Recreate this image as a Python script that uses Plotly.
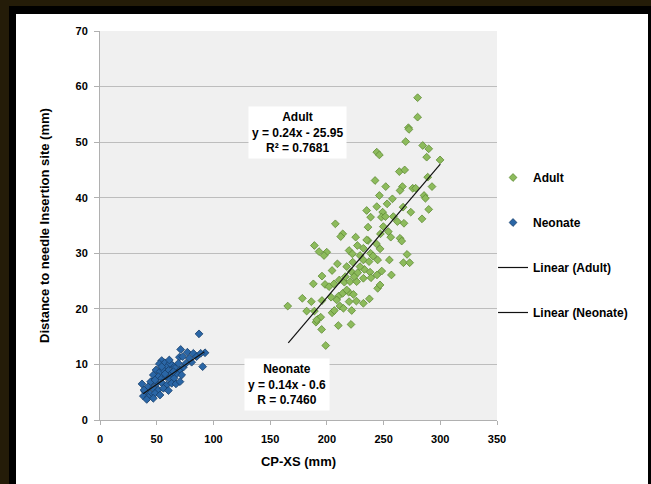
import numpy as np
import plotly.graph_objects as go

# ---------------- data ----------------
adult_x = [280.0, 280.0, 271.9, 272.4, 269.5, 244.0, 246.3, 284.5, 289.8, 288.0,
           299.8, 263.9, 268.6, 242.5, 251.9, 266.6, 264.5, 275.7, 278.3, 288.9,
           292.7, 246.3, 257.8, 285.7, 286.9, 244.0, 253.1, 267.2, 274.0, 289.8,
           235.1, 249.2, 238.6, 248.1, 251.6, 262.2, 268.0, 283.9, 207.5, 236.3,
           214.0, 212.2, 225.4, 247.2, 254.2, 264.5, 266.0, 256.3, 189.0, 193.1,
           199.9, 197.5, 219.6, 226.9, 232.2, 236.3, 243.7, 222.5, 229.2, 238.6,
           240.7, 246.9, 270.7, 209.3, 217.5, 222.8, 232.2, 237.2, 244.8, 255.1,
           267.5, 273.0, 204.6, 221.6, 227.2, 233.1, 238.1, 244.2, 248.4, 256.9,
           195.7, 188.1, 198.4, 201.9, 211.0, 215.4, 220.4, 226.3, 232.2, 238.9,
           244.8, 246.9, 178.4, 186.3, 195.7, 203.7, 210.4, 214.0, 219.3, 223.4,
           226.0, 232.2, 237.5, 165.5, 182.2, 189.0, 192.5, 194.6, 204.6, 206.6,
           211.6, 214.6, 219.6, 221.9, 190.4, 195.4, 210.1, 221.3, 199.0, 216.3,
           224.0, 229.2, 235.1, 249.8, 258.6, 206.3, 191.0, 217.5, 208.7]
adult_y = [58.0, 54.5, 52.6, 52.3, 50.1, 48.2, 47.7, 49.4, 48.8, 47.3,
           46.8, 44.7, 45.0, 43.1, 42.0, 42.0, 41.3, 41.7, 41.7, 43.7,
           42.0, 40.4, 39.8, 40.4, 39.9, 38.4, 38.9, 38.3, 37.4, 37.9,
           37.7, 37.4, 36.5, 36.5, 36.6, 35.7, 35.4, 36.2, 35.3, 34.7,
           33.5, 33.0, 32.9, 33.5, 33.9, 32.7, 32.2, 32.9, 31.4, 30.3,
           30.2, 29.6, 30.5, 31.4, 30.9, 32.3, 31.7, 29.9, 29.6, 30.0,
           29.5, 30.8, 29.8, 28.1, 27.6, 28.4, 28.8, 28.5, 28.8, 28.8,
           28.3, 28.3, 26.9, 26.7, 26.5, 27.1, 26.6, 26.1, 26.8, 26.1,
           25.9, 24.5, 24.4, 24.0, 25.2, 24.8, 24.9, 24.9, 25.5, 25.6,
           23.7, 24.3, 21.9, 21.3, 21.5, 22.1, 22.3, 22.8, 23.0, 22.6,
           21.4, 21.0, 21.8, 20.5, 19.6, 19.6, 18.2, 18.5, 19.3, 19.7,
           20.5, 20.1, 21.3, 19.7, 17.6, 16.3, 17.0, 17.2, 13.4, 25.8,
           25.8, 27.6, 32.4, 34.8, 36.6, 24.5, 18.0, 23.4, 21.6]

neo_x = [87.3, 71.1, 77.0, 70.0, 72.9, 82.3, 92.6, 90.5, 80.8, 69.1,
         64.1, 54.4, 52.3, 57.3, 59.4, 61.7, 66.1, 70.5, 73.5, 49.4,
         52.9, 55.9, 60.3, 63.2, 67.6, 72.0, 47.0, 51.4, 54.4, 58.2,
         61.7, 65.3, 45.6, 50.0, 54.4, 58.8, 63.2, 67.0, 70.5, 37.0,
         42.6, 47.0, 51.4, 55.9, 60.3, 39.7, 44.1, 48.5, 52.9, 38.2,
         42.6, 47.0, 38.8, 41.2, 44.7, 57.3, 64.7, 75.8, 78.8, 85.2,
         88.8, 54.4, 61.1, 48.5]
neo_y = [15.5, 12.7, 12.2, 11.3, 11.4, 12.0, 12.1, 9.6, 10.4, 10.2,
         9.8, 10.7, 10.1, 10.3, 9.6, 10.2, 9.3, 9.0, 9.5, 9.0,
         8.7, 9.0, 8.9, 8.4, 8.3, 8.1, 8.1, 7.8, 7.5, 7.8,
         7.3, 7.5, 6.9, 6.6, 6.7, 6.3, 6.6, 6.5, 6.9, 6.5,
         6.0, 5.7, 5.4, 5.7, 5.3, 5.1, 4.7, 4.8, 4.5, 4.3,
         4.1, 3.9, 5.4, 3.7, 6.9, 8.3, 8.7, 10.2, 11.1, 11.4,
         12.0, 9.6, 10.8, 7.2]

# trendline parameters (from the equations shown on the chart)
adult_fit = {"slope": 0.24, "intercept": -25.95, "xrange": [166, 300]}
neo_fit = {"slope": 0.14, "intercept": -0.6, "xrange": [38, 92]}

x_ticks = [0, 50, 100, 150, 200, 250, 300, 350]
y_ticks = [0, 10, 20, 30, 40, 50, 60, 70]

# ---------------- figure ----------------
FONT = "Liberation Sans, Arial, sans-serif"
W, H = 651, 484
ML, MR, MT, MB = 100, 154, 31, 64
PW, PH = W - ML - MR, H - MT - MB


def px_x(p):
    return (p - ML) / PW


def px_y(p):
    return (H - MB - p) / PH


fig = go.Figure()

fig.add_trace(go.Scatter(
    x=adult_x, y=adult_y, mode="markers", name="Adult", legendgroup="a",
    marker=dict(symbol="diamond", size=6, color="#8dbb5c",
                line=dict(color="#5e8a34", width=0.8))))
fig.add_trace(go.Scatter(
    x=neo_x, y=neo_y, mode="markers", name="Neonate", legendgroup="b",
    marker=dict(symbol="diamond", size=6, color="#2a66a6",
                line=dict(color="#163e6a", width=0.8))))

for fit, nm, g in [(adult_fit, "Linear (Adult)", "c"), (neo_fit, "Linear (Neonate)", "d")]:
    xs = np.array(fit["xrange"], dtype=float)
    ys = fit["slope"] * xs + fit["intercept"]
    fig.add_trace(go.Scatter(x=xs, y=ys, mode="lines", name=nm, legendgroup=g,
                             line=dict(color="#111111", width=1.2)))

ann_font = dict(family=FONT, size=12, color="#000000", weight="bold")
fig.add_annotation(x=173.7, y=51.7, xref="x", yref="y", showarrow=False,
                   text="Adult<br>y = 0.24x - 25.95<br>R² = 0.7681",
                   bgcolor="#ffffff", borderpad=3, font=ann_font, align="center")
fig.add_annotation(x=165.0, y=6.3, xref="x", yref="y", showarrow=False,
                   text="Neonate<br>y = 0.14x - 0.6<br>R = 0.7460",
                   bgcolor="#ffffff", borderpad=3, font=ann_font, align="center")

# dark frame around the white panel
shapes = []
brown, black = "#241c08", "#000000"
shapes.append(dict(type="rect", xref="paper", yref="paper", layer="above",
                   x0=px_x(0), x1=px_x(W), y0=px_y(0), y1=px_y(6),
                   fillcolor=brown, line=dict(width=0)))
shapes.append(dict(type="rect", xref="paper", yref="paper", layer="above",
                   x0=px_x(0), x1=px_x(9), y0=px_y(0), y1=px_y(H),
                   fillcolor=brown, line=dict(width=0)))
shapes.append(dict(type="rect", xref="paper", yref="paper", layer="above",
                   x0=px_x(9), x1=px_x(W), y0=px_y(6), y1=px_y(14),
                   fillcolor=black, line=dict(width=0)))
shapes.append(dict(type="rect", xref="paper", yref="paper", layer="above",
                   x0=px_x(9), x1=px_x(16), y0=px_y(6), y1=px_y(H),
                   fillcolor=black, line=dict(width=0)))
shapes.append(dict(type="rect", xref="paper", yref="paper", layer="above",
                   x0=px_x(648), x1=px_x(W), y0=px_y(6), y1=px_y(H),
                   fillcolor=black, line=dict(width=0)))

tick_font = dict(family=FONT, size=11, color="#000000", weight="bold")
title_font = dict(family=FONT, size=13, color="#000000", weight="bold")

fig.update_layout(
    width=W, height=H,
    margin=dict(l=ML, r=MR, t=MT, b=MB, pad=0),
    paper_bgcolor="#ffffff", plot_bgcolor="#f0f0f0",
    shapes=shapes,
    showlegend=True,
    legend=dict(x=0.99, y=px_y(163), xanchor="left", yanchor="top",
                font=dict(family=FONT, size=12, color="#000000", weight="bold"),
                bgcolor="rgba(0,0,0,0)", tracegroupgap=26, itemwidth=30),
    xaxis=dict(range=[0, 350], tickvals=x_ticks, ticktext=[str(v) for v in x_ticks],
               showgrid=False, zeroline=False, showline=True, linecolor="#b0b0b0",
               linewidth=1, ticks="outside", ticklen=4, tickcolor="#b0b0b0",
               tickfont=tick_font, ticklabelstandoff=5,
               title=dict(text="CP-XS (mm)", font=title_font, standoff=12)),
    yaxis=dict(range=[0, 70], tickvals=y_ticks, ticktext=[str(v) for v in y_ticks],
               showgrid=True, gridcolor="#bdbdbd", gridwidth=1, zeroline=False,
               showline=True, linecolor="#b0b0b0", linewidth=1,
               ticks="outside", ticklen=5, tickcolor="#b0b0b0",
               tickfont=tick_font, ticklabelstandoff=4,
               title=dict(text="Distance to needle Insertion site (mm)",
                          font=title_font, standoff=22)),
)

fig.write_html("out.html", config={"displayModeBar": False},
               post_script="document.body.style.margin='0';document.body.style.padding='0';")
